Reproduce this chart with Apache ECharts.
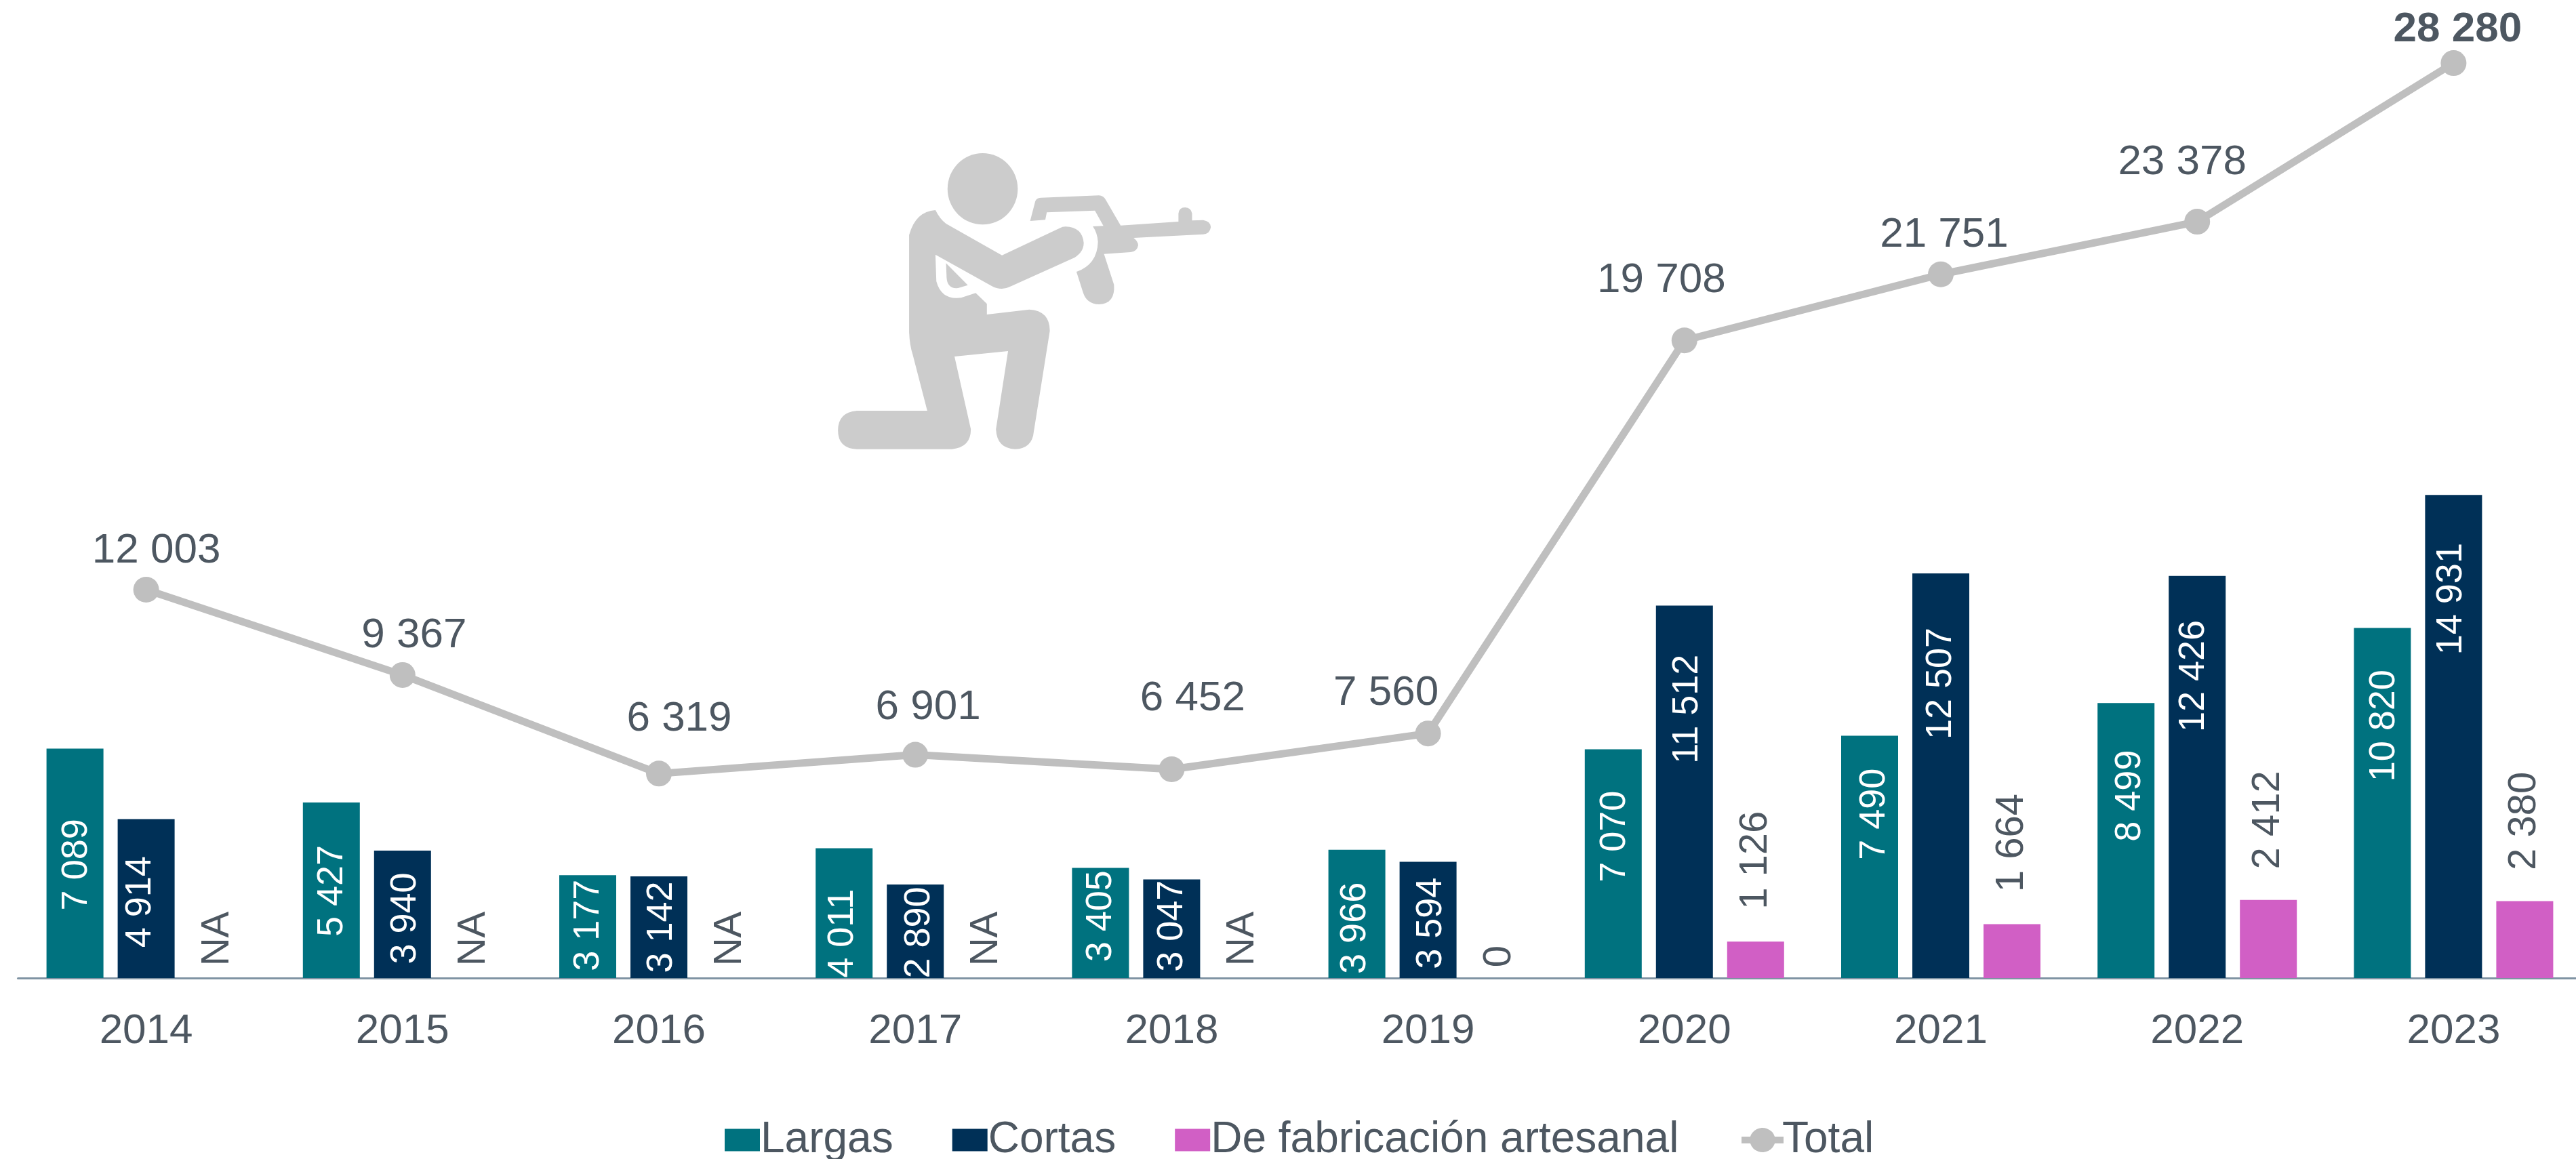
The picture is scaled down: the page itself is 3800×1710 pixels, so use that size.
<!DOCTYPE html>
<html>
<head>
<meta charset="utf-8">
<style>
  html, body { margin: 0; padding: 0; background: #fff; }
  #chart { width: 3800px; height: 1710px; }
</style>
<script src="https://cdn.jsdelivr.net/npm/echarts@6/dist/echarts.min.js"></script>
</head>
<body>
<div id="chart"></div>
<script>
const years = ["2014", "2015", "2016", "2017", "2018", "2019", "2020", "2021", "2022", "2023"];
const largas = [7089, 5427, 3177, 4011, 3405, 3966, 7070, 7490, 8499, 10820];
const cortas = [4914, 3940, 3142, 2890, 3047, 3594, 11512, 12507, 12426, 14931];
const artesanal = [0, 0, 0, 0, 0, 0, 1126, 1664, 2412, 2380];
const artesanalLabels = ["NA", "NA", "NA", "NA", "NA", "0", "1 126", "1 664", "2 412", "2 380"];
const total = [12003, 9367, 6319, 6901, 6452, 7560, 19708, 21751, 23378, 28280];

// las etiquetas del original estan colocadas a mano, en px
// Shift: hacia arriba; Nudge: hacia la derecha
const largasShift = [-2, -1, 2, -30, 10, -21, 40, 63, 66, 114];
const largasNudge = [3, 1, 1, -2, 1, -2, 2, 7, 6, 3];
const cortasShift = [-5, -6, 0, -2, 4, -5, 122, 136, 149, 203];
const cortasNudge = [-8, 4, 4, 6, 1, 5, 4, 0, -5, -3];
const artesanalShift = [58, 58, 58, 58, 58, 32, 120, 120, 118, 118];
const totalOffsets = [
  [15, -57], [17, -58], [30, -80], [19, -70], [31, -104],
  [-62, -59], [-34, -88], [5, -58], [-22, -87], [6, -49],
];

const FONT = "Liberation Sans";
const TEXT = "#4D5761";
const LINE = "#BFBFBF";

const fmt = (v) => String(v).replace(/\B(?=(\d{3})+$)/g, " ");

const iconPaths = [
  // cabeza
  "M555,296 A116,158 0 1 1 787,296 A116,158 0 1 1 555,296 Z",
  // cuerpo
  "M515,390 Q450,395 428,500 L428,930 Q430,990 440,1030 L488,1278 L255,1278 Q193,1285 193,1365 Q193,1445 255,1448 L570,1448 Q632,1440 632,1360 L578,1038 L755,1014 L715,1360 Q718,1445 778,1448 Q835,1445 840,1370 L893,925 Q893,835 825,830 L685,852 L685,805 L648,757 L600,778 Q535,790 518,705 L515,587 L700,725 Q733,750 765,727 L975,600 Q1005,575 1005,535 Q1000,465 945,463 Q935,463 925,470 L735,590 L550,450 Q530,430 515,390 Z",
  "M550,625 L622,722 L590,735 Q555,740 552,690 Z",
  // fusil
  "M828,438 L845,350 Q850,335 865,335 L1055,325 Q1070,325 1078,345 L1127,458 L1318,441 L1318,405 Q1320,378 1340,378 Q1360,380 1363,405 L1363,436 L1400,434 Q1425,440 1425,465 Q1422,495 1400,497 L1170,513 Q1185,530 1185,545 Q1182,572 1160,576 L1072,584 L1105,720 Q1110,805 1055,807 Q1015,805 1003,755 L981,663 Q1050,630 1052,530 Q1050,490 1035,462 L1070,460 L1042,392 L883,400 L878,433 Z",
];

// el componente graphic no acepta type "path", hay que registrar cada forma
iconPaths.forEach((d, i) => {
  echarts.graphic.registerShape("icon" + i, echarts.graphic.extendPath(d));
});

// el offset va girado junto con el texto: x local apunta hacia arriba, y hacia la derecha
const barData = (values, shifts, nudges) =>
  values.map((v, i) => ({
    value: v,
    label: { offset: [shifts[i], nudges ? nudges[i] : 0] },
  }));

const barLabel = {
  show: true,
  position: "inside",
  rotate: 90,
  align: "center",
  verticalAlign: "middle",
  color: "#fff",
  fontFamily: FONT,
  fontSize: 54,
  formatter: (p) => fmt(p.value),
};

const legendText = {
  fontFamily: FONT,
  fontSize: 64,
  color: TEXT,
};

const chart = echarts.init(document.getElementById("chart"));

chart.setOption({
  animation: false,
  backgroundColor: "#fff",
  textStyle: { fontFamily: FONT },
  grid: { left: 26.5, top: 11, width: 3782, height: 1432, outerBoundsMode: "none" },
  legend: [
    {
      left: 1064,
      top: 1645,
      icon: "rect",
      itemWidth: 52,
      itemHeight: 33,
      itemGap: 87,
      textStyle: { ...legendText, padding: [0, 0, 0, -4] },
      data: ["Largas", "Cortas", "De fabricación artesanal"],
    },
    {
      left: 2564,
      top: 1645,
      icon: "path://M0,14 L12.97,14 A19,19 0 0 1 49.03,14 L62,14 L62,24 L49.03,24 A19,19 0 0 1 12.97,24 L0,24 Z",
      itemWidth: 62,
      itemHeight: 38,
      textStyle: { ...legendText, padding: [0, 0, 0, -7] },
      data: ["Total"],
    },
  ],
  xAxis: {
    type: "category",
    data: years,
    axisLine: { lineStyle: { color: "#7F93A3", width: 3 } },
    axisTick: { show: false },
    axisLabel: {
      color: TEXT,
      fontFamily: FONT,
      fontSize: 62,
      margin: 48,
    },
  },
  yAxis: {
    type: "value",
    min: 0,
    max: 30000,
    show: false,
    splitLine: { show: false },
  },
  series: [
    {
      name: "Largas",
      type: "bar",
      data: barData(largas, largasShift, largasNudge),
      barWidth: 84,
      barGap: "25%",
      itemStyle: { color: "#00727F" },
      label: barLabel,
    },
    {
      name: "Cortas",
      type: "bar",
      data: barData(cortas, cortasShift, cortasNudge),
      barWidth: 84,
      itemStyle: { color: "#003057" },
      label: barLabel,
    },
    {
      name: "De fabricación artesanal",
      type: "bar",
      data: barData(artesanal, artesanalShift),
      barWidth: 84,
      itemStyle: { color: "#D15FC5" },
      label: {
        show: true,
        position: "top",
        distance: 0,
        rotate: 90,
        align: "center",
        verticalAlign: "middle",
        color: TEXT,
        fontFamily: FONT,
        fontSize: 58,
        formatter: (p) => artesanalLabels[p.dataIndex],
      },
    },
    {
      name: "Total",
      type: "line",
      data: total.map((v, i) => ({
        value: v,
        label: {
          offset: totalOffsets[i],
          fontWeight: i === total.length - 1 ? "bold" : "normal",
        },
      })),
      symbol: "circle",
      symbolSize: 38,
      lineStyle: { color: LINE, width: 11 },
      itemStyle: { color: LINE },
      label: {
        show: true,
        position: "inside",
        align: "center",
        verticalAlign: "middle",
        color: TEXT,
        fontFamily: FONT,
        fontSize: 62,
        formatter: (p) => fmt(p.value),
      },
      z: 5,
    },
  ],
  graphic: {
    type: "group",
    x: 1150,
    y: 180,
    scaleX: 1 / 2.24,
    scaleY: 1 / 3,
    children: iconPaths.map((d, i) => ({
      type: "icon" + i,
      style: { fill: "#CCCCCC" },
    })),
  },
});
</script>
</body>
</html>
